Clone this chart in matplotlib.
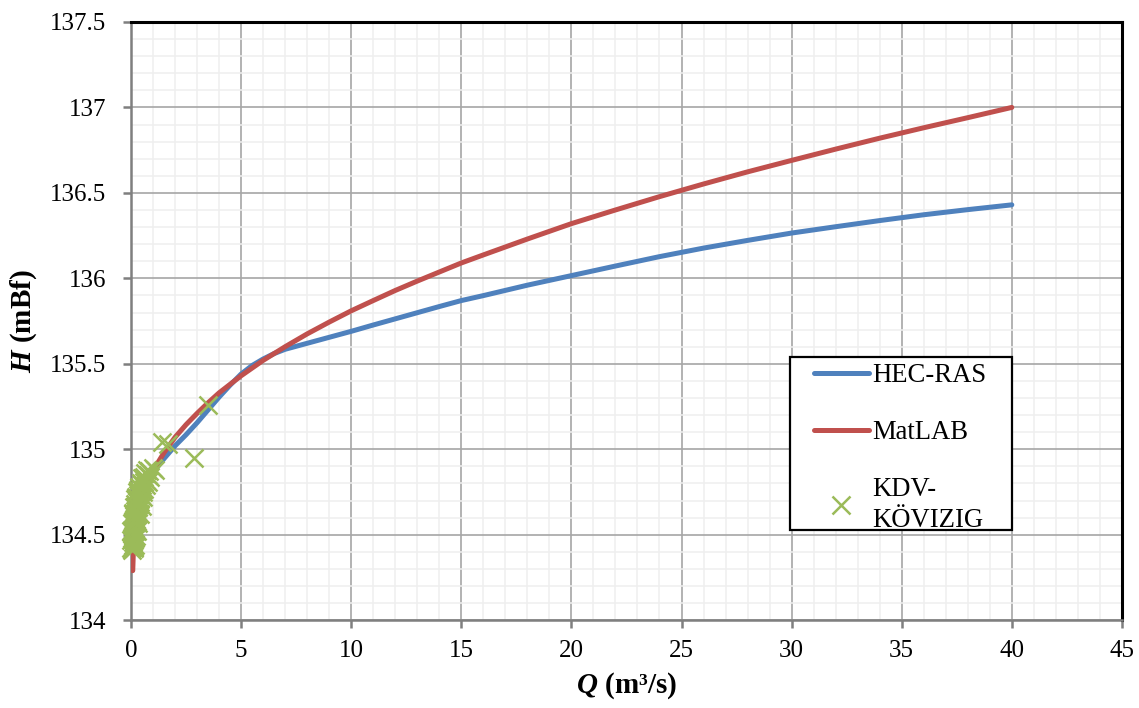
import matplotlib.pyplot as plt
from matplotlib.patches import Rectangle
from matplotlib.ticker import MultipleLocator, FuncFormatter

plt.rcParams['font.family'] = ['Liberation Serif', 'DejaVu Serif']
plt.rcParams['mathtext.fontset'] = 'custom'
plt.rcParams['mathtext.rm'] = 'Liberation Serif'
plt.rcParams['mathtext.bf'] = 'Liberation Serif:bold'
plt.rcParams['mathtext.it'] = 'Liberation Serif:italic'
plt.rcParams['mathtext.bfit'] = 'Liberation Serif:italic:bold'

# HEC-RAS rating curve
hec_q = [0.08, 0.15, 0.25, 0.4, 0.6, 0.8, 1.0, 1.25, 1.5, 2.0, 2.5, 3.0, 3.5,
         4.0, 4.5, 5.0, 5.5, 6.0, 6.5, 7, 8, 9, 10, 11, 12, 13, 14, 15, 16,
         18, 20, 22, 24, 26, 28, 30, 32, 34, 36, 38, 40]
hec_h = [134.42, 134.50, 134.58, 134.67, 134.75, 134.81, 134.86, 134.905, 134.945,
         135.02, 135.085, 135.155, 135.23, 135.305, 135.375, 135.44, 135.49, 135.528,
         135.56, 135.585, 135.62, 135.655, 135.69, 135.727, 135.763, 135.799,
         135.835, 135.87, 135.899, 135.96, 136.016, 136.072, 136.127, 136.177,
         136.222, 136.265, 136.302, 136.338, 136.372, 136.402, 136.43]

# MatLAB rating curve
mat_q = [0.08, 0.12, 0.2, 0.3, 0.5, 0.75, 1.0, 1.5, 2.0, 2.5, 3.0, 3.5, 4, 5, 6,
         7, 8, 9, 10, 11, 12, 13, 14, 15, 16, 18, 20, 22, 24, 26, 28, 30, 32,
         34, 36, 38, 40]
mat_h = [134.29, 134.45, 134.57, 134.647, 134.73, 134.81, 134.875, 134.98,
         135.07, 135.144, 135.21, 135.272, 135.33, 135.43, 135.52, 135.60,
         135.675, 135.744, 135.81, 135.87, 135.929, 135.984, 136.037, 136.09,
         136.137, 136.23, 136.32, 136.40, 136.478, 136.552, 136.623, 136.69,
         136.756, 136.82, 136.881, 136.94, 137.0]

# KDV-KÖVIZIG measurements
kdv_q = [0.00, 0.03, 0.06, 0.09, 0.12, 0.15, 0.19,
         0.01, 0.04, 0.07, 0.10, 0.14, 0.17, 0.21,
         0.02, 0.05, 0.09, 0.12, 0.16, 0.20, 0.24, 0.29,
         0.04, 0.08, 0.11, 0.15, 0.19, 0.23, 0.28, 0.33,
         0.07, 0.11, 0.15, 0.19, 0.24, 0.29, 0.34, 0.40,
         0.12, 0.16, 0.21, 0.26, 0.31, 0.37, 0.43, 0.49,
         0.18, 0.23, 0.28, 0.34, 0.40, 0.47, 0.54,
         0.26, 0.32, 0.39, 0.46, 0.53, 0.61,
         0.36, 0.44, 0.52, 0.60, 0.68, 0.78,
         0.50, 0.58, 0.66, 0.76, 0.88,
         0.62, 0.72, 0.84, 0.98, 1.10,
         1.39, 1.70, 2.88, 3.51]
kdv_h = [134.42, 134.43, 134.41, 134.44, 134.42, 134.43, 134.44,
         134.47, 134.48, 134.46, 134.49, 134.47, 134.48, 134.49,
         134.52, 134.53, 134.51, 134.54, 134.52, 134.54, 134.53, 134.52,
         134.57, 134.58, 134.56, 134.59, 134.57, 134.59, 134.58, 134.57,
         134.62, 134.63, 134.61, 134.64, 134.62, 134.64, 134.63, 134.62,
         134.66, 134.68, 134.67, 134.69, 134.66, 134.68, 134.69, 134.67,
         134.71, 134.72, 134.70, 134.73, 134.71, 134.73, 134.72,
         134.75, 134.76, 134.74, 134.77, 134.75, 134.77,
         134.78, 134.80, 134.79, 134.81, 134.79, 134.81,
         134.83, 134.84, 134.82, 134.85, 134.84,
         134.86, 134.88, 134.87, 134.89, 134.88,
         135.04, 135.03, 134.95, 135.26]

fig, ax = plt.subplots(figsize=(11.39, 7.08), dpi=100)
fig.subplots_adjust(left=0.115, right=0.985, top=0.969, bottom=0.124)

ax.plot(hec_q, hec_h, color='#4F81BD', lw=3.6, solid_capstyle='round',
        solid_joinstyle='round', label='HEC-RAS', zorder=3)
ax.plot(mat_q, mat_h, color='#C0504D', lw=3.6, solid_capstyle='round',
        solid_joinstyle='round', label='MatLAB', zorder=3)
ax.plot(kdv_q, kdv_h, ls='none', marker='x', ms=13, mew=1.8, color='#9BBB59',
        label='KDV-\nKÖVIZIG', zorder=4, clip_on=False)

ax.set_xlim(0, 45)
ax.set_ylim(134, 137.5)
ax.xaxis.set_major_locator(MultipleLocator(5))
ax.xaxis.set_minor_locator(MultipleLocator(1))
ax.yaxis.set_major_locator(MultipleLocator(0.5))
ax.yaxis.set_minor_locator(MultipleLocator(0.1))
ax.yaxis.set_major_formatter(FuncFormatter(lambda v, p: '{:g}'.format(v)))

ax.grid(which='major', color='#A6A6A6', lw=1.2)
ax.grid(which='minor', color='#EFEFEF', lw=1.1)
ax.set_axisbelow(True)

for s in ['left', 'bottom']:
    ax.spines[s].set_color('#7F7F7F')
    ax.spines[s].set_linewidth(1.8)
for s in ['top', 'right']:
    ax.spines[s].set_color('black')
    ax.spines[s].set_linewidth(2.2)

ax.tick_params(which='major', direction='out', length=6, width=1.8,
               color='#7F7F7F', labelsize=18)
ax.tick_params(which='minor', length=0)
ax.tick_params(axis='y', pad=12)
ax.tick_params(axis='x', pad=8)

ax.set_xlabel(r'$\mathbfit{Q}$ (m³/s)', fontsize=21, fontweight='bold', labelpad=6)
ax.set_ylabel(r'$\mathbfit{H}$ (mBf)', fontsize=21, fontweight='bold', labelpad=8)

# legend frame drawn separately (wide side margins, tight top/bottom)
ax.add_patch(Rectangle((0.665, 0.1505), 0.224, 0.289, transform=ax.transAxes,
                       facecolor='white', edgecolor='black', lw=1.6, zorder=5))
leg = ax.legend(loc='upper left', bbox_to_anchor=(0.689, 0.430), fontsize=19.2,
                frameon=False, handlelength=2.06, handletextpad=0.15,
                labelspacing=1.2, borderpad=0, borderaxespad=0)
leg.set_zorder(6)
leg.get_texts()[2].set_linespacing(1.3)

plt.savefig('out.png', dpi=100)
